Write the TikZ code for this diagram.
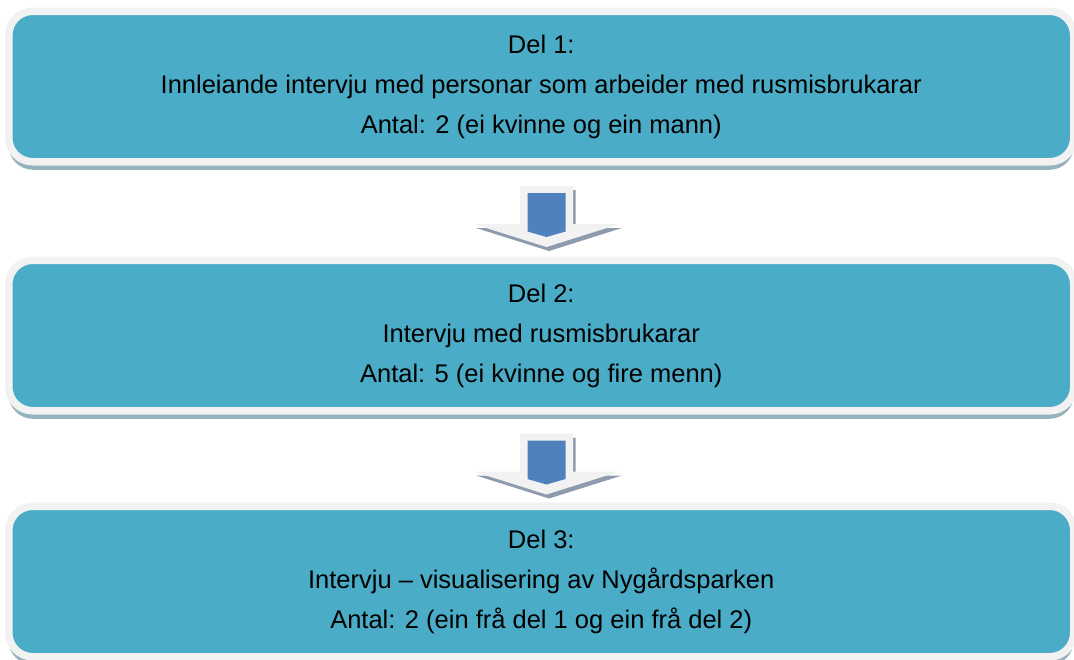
\documentclass[tikz,border=0pt]{standalone}
\usepackage{fontspec}
\setmainfont{Liberation Sans}
\usetikzlibrary{calc,shadows}

\definecolor{stagefill}{HTML}{4AACC6}
\definecolor{stagerim}{HTML}{F2F2F2}
\definecolor{stageshade}{HTML}{95B3BC}
\definecolor{arrowblue}{HTML}{4F81BD}
\definecolor{arrowshade}{HTML}{8E9BAD}

\tikzset{
  stage/.style={rectangle, rounded corners=24pt, fill=stagefill, draw=stagerim,
    line width=7.5pt, minimum width=1065pt, minimum height=150.5pt,
    align=center, text=black, font=\fontsize{25.5}{40}\selectfont,
    drop shadow={shadow xshift=0pt, shadow yshift=-8pt, fill=stageshade, opacity=1}},
}

\begin{document}
\begin{tikzpicture}[x=1pt, y=-1pt]

    \useasboundingbox (0,0) rectangle (1074,659);

    \node[stage] (box1) at (541.25,86.5) {Del 1:\\Innleiande intervju med personar som arbeider med rusmisbrukarar\\Antal: 2 (ei kvinne og ein mann)};
    \node[stage] (box2) at (541.25,335.5) {Del 2:\\Intervju med rusmisbrukarar\\Antal: 5 (ei kvinne og fire menn)};
    \node[stage] (box3) at (541.25,581.5) {Del 3:\\Intervju – visualisering av Nygårdsparken\\Antal: 2 (ein frå del 1 og ein frå del 2)};

    \foreach \a/\b in {box1/box2, box2/box3} {%
        \coordinate (m) at ($(\a.south)!0.5!(\b.north)$);
        \begin{scope}[shift={(m)}, xshift=5.25pt]
            \fill[arrowshade, shift={(2.5,4)}] (-26.5,-25) -- (26.5,-25) -- (26.5,13) -- (73,13) -- (0,36) -- (-73,13) -- (-26.5,13) -- cycle;
            \fill[stagerim] (-26.5,-25) -- (26.5,-25) -- (26.5,13) -- (73,13) -- (0,36) -- (-73,13) -- (-26.5,13) -- cycle;
            \fill[arrowblue] (-19,-18) -- (19,-18) -- (19,20.5) -- (0,26) -- (-19,20.5) -- cycle;
        \end{scope}
    }

\end{tikzpicture}
\end{document}
